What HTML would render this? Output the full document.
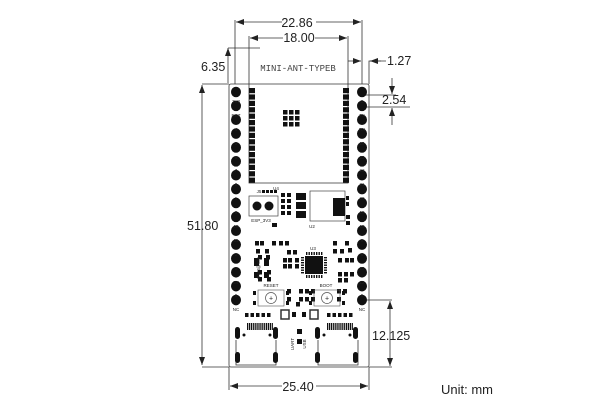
<!DOCTYPE html>
<html><head><meta charset="utf-8"><style>
html,body{margin:0;padding:0;background:#fff;width:600px;height:400px;overflow:hidden}
svg{display:block}
text{font-family:"Liberation Sans",sans-serif;fill:#222}
</style></head><body>
<svg id="s" width="600" height="400" viewBox="0 0 600 400" xmlns="http://www.w3.org/2000/svg">
<defs>
<marker id="a" markerWidth="8" markerHeight="6" refX="8" refY="3" orient="auto-start-reverse" markerUnits="userSpaceOnUse"><path d="M0,0 L8,3 L0,6z" fill="#222"/></marker>
</defs>
<g stroke="#333" stroke-width="0.8" fill="none">
<!-- board outline -->
<rect x="229" y="84" width="140" height="283" rx="2"/>
<!-- module region -->
<path d="M235,84 V20 M362,84 V20"/>
<path d="M249,86 V36 M348,86 V36"/>
<path d="M249,86 V183 H348 V86"/>
<!-- usb outlines -->
<path d="M236,340 V365 H276 V340 M318,340 V365 H358 V340"/>
<!-- dims -->
<line x1="236" y1="22" x2="282" y2="22" marker-start="url(#a)"/>
<line x1="316" y1="22" x2="361" y2="22" marker-end="url(#a)"/>
<line x1="250" y1="38" x2="283" y2="38" marker-start="url(#a)"/>
<line x1="315" y1="38" x2="347" y2="38" marker-end="url(#a)"/>
<line x1="228" y1="48" x2="228" y2="83" marker-start="url(#a)"/>
<line x1="228" y1="48" x2="260" y2="48"/>
<line x1="202" y1="85" x2="202" y2="365" marker-start="url(#a)" marker-end="url(#a)"/>
<line x1="202" y1="84" x2="229" y2="84"/>
<line x1="202" y1="367" x2="229" y2="367"/>
<line x1="230" y1="386" x2="282" y2="386" marker-start="url(#a)"/>
<line x1="316" y1="386" x2="368" y2="386" marker-end="url(#a)"/>
<path d="M229,367 V390 M369,367 V390"/>
<line x1="348" y1="61" x2="361" y2="61" marker-end="url(#a)"/>
<path d="M369,84 V61 H386"/>
<line x1="381" y1="61" x2="370" y2="61" marker-end="url(#a)"/>
<line x1="392" y1="78" x2="392" y2="94" marker-end="url(#a)"/>
<line x1="392" y1="125" x2="392" y2="108" marker-end="url(#a)"/>
<path d="M362,95 H396 M362,107 H410"/>
<path d="M362,300 H392"/>
<line x1="390" y1="301" x2="390" y2="366" marker-start="url(#a)" marker-end="url(#a)"/>
<path d="M369,367 H392"/>
</g>
<text x="297" y="27" font-size="12.5" text-anchor="middle">22.86</text>
<text x="299" y="42" font-size="12.5" text-anchor="middle">18.00</text>
<text x="201" y="71" font-size="12.5">6.35</text>
<text x="387" y="65" font-size="12.5">1.27</text>
<text x="382" y="104" font-size="12.5">2.54</text>
<text x="187" y="230" font-size="12.5">51.80</text>
<text x="372" y="340" font-size="12.5">12.125</text>
<text x="298" y="391" font-size="12.5" text-anchor="middle">25.40</text>
<text x="441" y="394" font-size="13">Unit: mm</text>
<text x="298" y="71" font-size="9" text-anchor="middle" font-family="Liberation Mono" style="font-family:'Liberation Mono',monospace;fill:#444">MINI-ANT-TYPEB</text>
<g id="g" fill="#111"></g>
<g font-size="4.5" text-anchor="middle" fill="#333">
<text x="236" y="103">3V3</text><text x="236" y="117">RST</text><text x="236" y="131">4</text><text x="236" y="145">5</text><text x="236" y="159">6</text><text x="236" y="172">7</text><text x="236" y="186">8</text><text x="236" y="200">1</text><text x="236" y="214">8</text><text x="236" y="228">18</text><text x="236" y="242">11</text><text x="236" y="256">2</text><text x="236" y="270">3</text><text x="236" y="284">5V</text><text x="236" y="297">6</text><text x="236" y="311">NC</text>
<text x="362" y="103">G</text><text x="362" y="117">TX</text><text x="362" y="131">RX</text><text x="362" y="145">15</text><text x="362" y="159">23</text><text x="362" y="172">22</text><text x="362" y="186">21</text><text x="362" y="200">20</text><text x="362" y="214">19</text><text x="362" y="228">18</text><text x="362" y="242">9</text><text x="362" y="256">6</text><text x="362" y="270">13</text><text x="362" y="284">12</text><text x="362" y="297">6</text><text x="362" y="311">NC</text>
<text x="259" y="193">J5</text><text x="276" y="190">U4</text><text x="261" y="222">ESP_3V3</text><text x="312" y="228">U2</text><text x="313" y="250">U3</text><text x="271" y="287">RESET</text><text x="326" y="287">BOOT</text>
<text x="294" y="344" transform="rotate(-90 294 344)">UART</text><text x="306" y="344" transform="rotate(-90 306 344)">USB</text><text x="260" y="268" transform="rotate(-90 260 268)">RGB@IO8</text>
</g>
</svg>
<script>
var g=document.getElementById('g'),N='http://www.w3.org/2000/svg';
function e(t,a){var x=document.createElementNS(N,t);for(var k in a)x.setAttribute(k,a[k]);g.appendChild(x);return x}
for(var i=0;i<16;i++){var y=92+i*13.87;e('ellipse',{cx:236,cy:y,rx:5,ry:5.3});e('ellipse',{cx:362,cy:y,rx:5,ry:5.3});}
for(var i=0;i<15;i++){var y=88+i*6.4;e('rect',{x:249,y:y,width:6,height:5.2});e('rect',{x:343,y:y,width:6,height:5.2});}
for(var r=0;r<3;r++)for(var c=0;c<3;c++)e('rect',{x:283+c*6,y:110+r*6,width:4.5,height:4.5});
// J5
e('rect',{x:249,y:196,width:29,height:20,fill:'none',stroke:'#444','stroke-width':0.7});
e('circle',{cx:257,cy:206,r:4.5});e('circle',{cx:269,cy:206,r:4.5});
for(var i=0;i<4;i++)e('rect',{x:262+i*4,y:190,width:3,height:3});
// U2 area
e('rect',{x:310,y:191,width:35,height:30,fill:'none',stroke:'#444','stroke-width':0.7});
for(var i=0;i<3;i++)e('rect',{x:296,y:193+i*9,width:10,height:7});
e('rect',{x:333,y:198,width:12,height:18});
for(var i=0;i<4;i++){e('rect',{x:281,y:193+i*6,width:4,height:4});e('rect',{x:287,y:193+i*6,width:4,height:4});}
e('rect',{x:346,y:196,width:3,height:4});e('rect',{x:346,y:202,width:3,height:4});e('rect',{x:346,y:215,width:4,height:4});e('rect',{x:346,y:221,width:4,height:4});
e('rect',{x:272,y:223,width:5,height:4});
// U3
e('rect',{x:305,y:256,width:18,height:18});
for(var i=0;i<7;i++){e('rect',{x:306+i*2.5,y:252,width:1.4,height:3});e('rect',{x:306+i*2.5,y:275,width:1.4,height:3});e('rect',{x:301,y:257+i*2.5,width:3,height:1.4});e('rect',{x:324,y:257+i*2.5,width:3,height:1.4});}
// misc smd
var sm=[[255,241],[260,241],[272,241],[279,241],[285,241],[256,249],[265,249],[287,250],[293,250],[258,255],[266,255],[283,258],[288,258],[295,258],[283,264],[288,264],[295,264],[258,270],[267,270],[258,277],[267,277],[333,241],[345,241],[348,248],[333,249],[340,249],[338,258],[345,258],[350,258],[338,272],[344,272],[350,272],[338,278],[344,278],[299,289],[305,289],[299,297],[305,297],[311,297],[296,302],[311,289],[287,289],[287,297],[337,289],[343,289],[337,297]];
sm.forEach(function(p){e('rect',{x:p[0],y:p[1],width:4,height:4.5})});
e('rect',{x:254,y:258,width:5,height:8});e('rect',{x:264,y:258,width:5,height:8});e('rect',{x:254,y:272,width:5,height:6});e('rect',{x:264,y:272,width:5,height:6});
// buttons
[[271,298],[327,298]].forEach(function(p){e('rect',{x:p[0]-13,y:p[1]-8,width:26,height:16,fill:'none',stroke:'#555','stroke-width':0.6});e('circle',{cx:p[0],cy:p[1],r:5.5,fill:'#fff',stroke:'#555','stroke-width':0.7});e('text',{x:p[0],y:p[1]+2.5,'font-size':7,'text-anchor':'middle'}).textContent='+';e('rect',{x:p[0]-18,y:p[1]-7,width:3,height:4});e('rect',{x:p[0]+15,y:p[1]-7,width:3,height:4});e('rect',{x:p[0]-18,y:p[1]+3,width:3,height:4});e('rect',{x:p[0]+15,y:p[1]+3,width:3,height:4});});
// row of small parts
for(var i=0;i<5;i++){e('rect',{x:245+i*5.5,y:313,width:3.5,height:4});e('rect',{x:327+i*5.5,y:313,width:3.5,height:4});}
e('rect',{x:281,y:310,width:8,height:9,fill:'#fff',stroke:'#333','stroke-width':1.5});e('rect',{x:310,y:310,width:8,height:9,fill:'#fff',stroke:'#333','stroke-width':1.5});
e('rect',{x:292,y:312,width:4,height:5});e('rect',{x:302,y:312,width:4,height:5});
// usb
[[238,275],[318,355]].forEach(function(p){for(var i=0;i<14;i++)e('rect',{x:p[0]+9+i*1.9,y:323,width:1.2,height:7});e('rect',{x:p[0]-3,y:327,width:5,height:12,rx:2.5});e('rect',{x:p[1]-2,y:327,width:5,height:12,rx:2.5});e('rect',{x:p[0]-3,y:352,width:5,height:11,rx:2.5});e('rect',{x:p[1]-2,y:352,width:5,height:11,rx:2.5});e('circle',{cx:p[0]+6,cy:335,r:1.5});e('circle',{cx:p[1]-5,cy:335,r:1.5});});
e('rect',{x:297,y:329,width:5,height:5});e('rect',{x:297,y:339,width:5,height:5});
</script>
</body></html>
